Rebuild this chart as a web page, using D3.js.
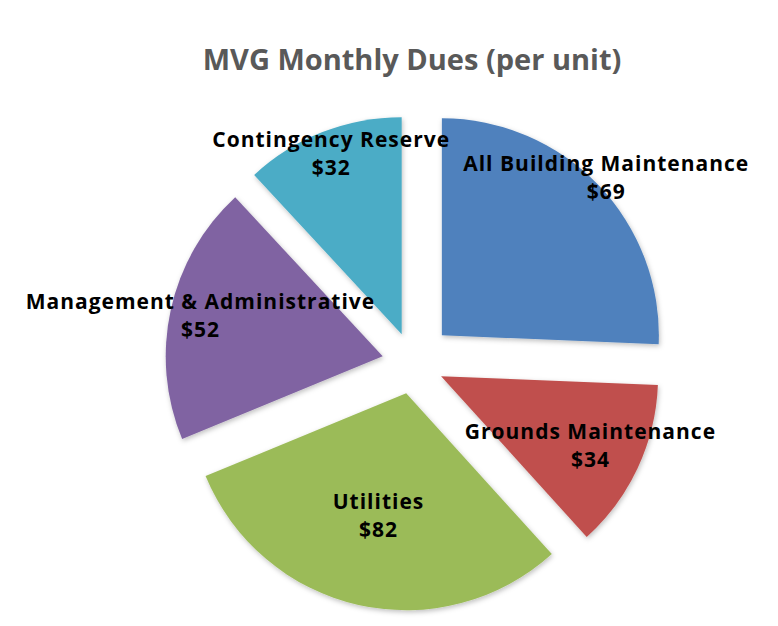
<!DOCTYPE html>
<html>
<head>
<meta charset="utf-8">
<script src="https://cdn.jsdelivr.net/npm/d3@7"></script>
<style>
  body { margin: 0; background: #fff; }
  text { font-family: "Open Sans", "DejaVu Sans", sans-serif; }
</style>
</head>
<body>
<svg id="chart" width="778" height="626"></svg>
<script>
// chart data
const categories = ["All Building Maintenance", "Grounds Maintenance", "Utilities", "Management & Administrative", "Contingency Reserve"];
const dues = [69, 34, 82, 52, 32];
const sliceColors = ["#4F81BD", "#C0504D", "#9BBB59", "#8064A2", "#4BACC6"];

const WIDTH = 778;
const HEIGHT = 626;
const CENTER = { x: 413, y: 363 };
const RADIUS = 217;
// how far each slice is pulled out, and where its label sits (fraction of radius)
const explode = [40, 31, 31, 31, 31];
const labelRadius = [1.05, 0.76, 0.58, 0.86, 0.89];

const svg = d3.select("#chart");

const defs = svg.append("defs");
const shadow = defs.append("filter")
  .attr("id", "shadow")
  .attr("x", "-10%").attr("y", "-10%")
  .attr("width", "120%").attr("height", "120%");
shadow.append("feDropShadow")
  .attr("dx", 1).attr("dy", 2)
  .attr("stdDeviation", 2.5)
  .attr("flood-color", "#000")
  .attr("flood-opacity", 0.25);

svg.append("text")
  .attr("x", 412)
  .attr("y", 70)
  .attr("text-anchor", "middle")
  .attr("fill", "#595959")
  .attr("font-size", 29)
  .attr("font-weight", "bold")
  .text("MVG Monthly Dues (per unit)");

const pie = d3.pie()
  .sort(null)
  .value(d => d)
  .startAngle(0)
  .endAngle(2 * Math.PI);

const arc = d3.arc()
  .innerRadius(0)
  .outerRadius(RADIUS);

const slices = pie(dues);

// unit vector pointing out through the middle of a slice
function midDir(d) {
  const a = (d.startAngle + d.endAngle) / 2;
  return [Math.sin(a), -Math.cos(a)];
}

const sliceGroups = svg.append("g")
  .selectAll("g")
  .data(slices)
  .join("g")
  .attr("transform", (d, i) => {
    const [ux, uy] = midDir(d);
    return `translate(${CENTER.x + ux * explode[i]},${CENTER.y + uy * explode[i]})`;
  });

sliceGroups.append("path")
  .attr("d", arc)
  .attr("fill", (d, i) => sliceColors[i])
  .attr("filter", "url(#shadow)");

const labels = svg.append("g")
  .selectAll("text")
  .data(slices)
  .join("text")
  .attr("text-anchor", "middle")
  .attr("font-size", 21)
  .attr("font-weight", "bold")
  .attr("letter-spacing", 1)
  .attr("fill", "#000")
  .attr("transform", (d, i) => {
    const [ux, uy] = midDir(d);
    const dist = explode[i] + RADIUS * labelRadius[i];
    return `translate(${CENTER.x + ux * dist},${CENTER.y + uy * dist})`;
  });

labels.append("tspan")
  .attr("x", 0)
  .attr("y", -7)
  .text((d, i) => categories[i]);

labels.append("tspan")
  .attr("x", 0)
  .attr("y", 21)
  .text(d => "$" + d.data);
</script>
</body>
</html>
